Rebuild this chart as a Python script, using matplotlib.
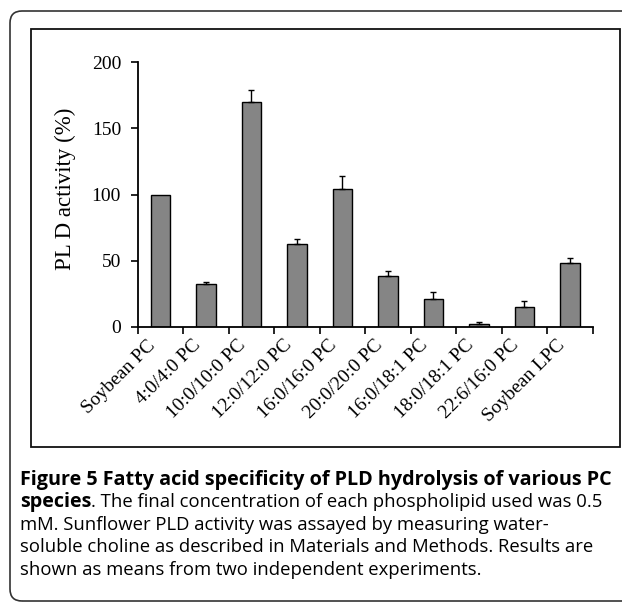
import matplotlib
matplotlib.use("Agg")
import matplotlib.pyplot as plt
from matplotlib.patches import FancyBboxPatch, Rectangle
from matplotlib.transforms import offset_copy
import numpy as np

categories = ["Soybean PC", "4:0/4:0 PC", "10:0/10:0 PC", "12:0/12:0 PC",
              "16:0/16:0 PC", "20:0/20:0 PC", "16:0/18:1 PC", "18:0/18:1 PC",
              "22:6/16:0 PC", "Soybean LPC"]
activity = [100, 32.1, 169.7, 62.4, 104.3, 38.4, 21.2, 2.3, 15.2, 48.0]
errors = [0, 2.0, 9.5, 3.6, 9.7, 3.6, 5.3, 1.0, 4.5, 4.3]
yticks = [0, 50, 100, 150, 200]

W, H = 622, 603
fig = plt.figure(figsize=(W / 100, H / 100), dpi=100)

# outer rounded frame and inner chart frame (pixel coordinates)
outer = FancyBboxPatch((10, H - 601), 900, 590, boxstyle="round,pad=0,rounding_size=12",
                       transform=None, facecolor="none", edgecolor="#333333", linewidth=1.2)
fig.patches.append(outer)
inner = Rectangle((31, H - 447), 589, 418, transform=None, facecolor="none",
                  edgecolor="#111111", linewidth=1.3)
fig.patches.append(inner)

ax_left, ax_right = 137.7, 592.7
ax_top, ax_bot = 62.3, 326.7
ax = fig.add_axes([ax_left / W, 1 - ax_bot / H, (ax_right - ax_left) / W, (ax_bot - ax_top) / H])

x = np.arange(len(categories)) + 0.5
ax.bar(x, activity, width=0.42, color="#858585", edgecolor="black", linewidth=1.0, zorder=2)
xe = [xi for xi, e in zip(x, errors) if e > 0]
ye = [a for a, e in zip(activity, errors) if e > 0]
ee = [e for e in errors if e > 0]
ax.errorbar(xe, ye, yerr=[[0] * len(ee), ee], fmt="none", ecolor="black",
            elinewidth=1.0, capsize=2, capthick=1.0, zorder=3)

ax.set_xlim(0, len(categories))
ax.set_ylim(0, 200)
for s in ["top", "right"]:
    ax.spines[s].set_visible(False)
for s in ["left", "bottom"]:
    ax.spines[s].set_linewidth(1.3)

serif = "Liberation Serif"
ax.set_yticks(yticks)
ax.set_yticklabels([str(v) for v in yticks], fontfamily=serif, fontsize=14)
ax.tick_params(axis="y", direction="out", length=5, width=1.2, pad=7)

ax.set_xticks(np.arange(len(categories) + 1))
ax.set_xticklabels([])
ax.tick_params(axis="x", direction="out", length=5, width=1.2)

trans = offset_copy(ax.get_xaxis_transform(), fig=fig, x=-8, y=-16, units="dots")
for xi, lab in zip(x, categories):
    ax.text(xi, 0, lab, transform=trans, rotation=45, rotation_mode="anchor",
            ha="right", va="center", fontfamily=serif, fontsize=14)

fig.text(65 / W, 1 - 189 / H, "PL D activity (%)", rotation=90, ha="center", va="center",
         fontfamily=serif, fontsize=16.5)

# caption
cap_font = "Open Sans"
fs_b = 14.2
fs_r = 13.3
x0 = 20 / W
fig.text(x0, 1 - 480 / H, "Figure 5 Fatty acid specificity of PLD hydrolysis of various PC",
         fontfamily=cap_font, fontweight="bold", fontsize=fs_b, va="center", ha="left")
t_b = fig.text(x0, 1 - 502 / H, "species", fontfamily=cap_font, fontweight="bold",
               fontsize=fs_b, va="center", ha="left")
fig.canvas.draw()
bb = t_b.get_window_extent(renderer=fig.canvas.get_renderer())
fig.text(bb.x1 / W, 1 - 502 / H, ". The final concentration of each phospholipid used was 0.5",
         fontfamily=cap_font, fontsize=fs_r, va="center", ha="left")
rest = ["mM. Sunflower PLD activity was assayed by measuring water-",
        "soluble choline as described in Materials and Methods. Results are",
        "shown as means from two independent experiments."]
for i, line in enumerate(rest):
    fig.text(x0, 1 - (525 + 22.5 * i) / H, line, fontfamily=cap_font, fontsize=fs_r,
             va="center", ha="left")

fig.savefig("out.png", dpi=100)
